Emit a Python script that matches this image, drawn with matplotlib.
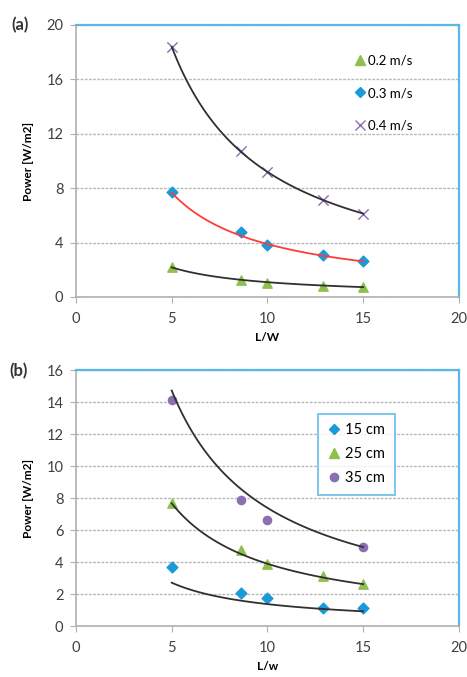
import numpy as np
import matplotlib
matplotlib.use("Agg")
import matplotlib.pyplot as plt
from matplotlib.lines import Line2D

plt.rcParams['font.family'] = ['Lato', 'DejaVu Sans']

# --- data ---
lw_ratio = [5, 8.6, 10, 12.9, 15]

# panel (a): flow speed
speed_labels = ['0.2 m/s', '0.3 m/s', '0.4 m/s']
power_02 = [2.2, 1.25, 1.05, 0.82, 0.7]
power_03 = [7.7, 4.75, 3.85, 3.1, 2.65]
power_04 = [18.4, 10.7, 9.2, 7.1, 6.1]

# panel (b): depth
depth_labels = ['15 cm', '25 cm', '35 cm']
power_15 = [3.7, 2.08, 1.77, 1.15, 1.13]
power_25 = [7.7, 4.75, 3.85, 3.1, 2.65]
lw_35 = [5, 8.6, 10, 15]
power_35 = [14.1, 7.85, 6.65, 4.93]

# power-law trendlines y = a * x**b, coefficients estimated from the drawn curves
trend_a = {'0.2': 10.9, '0.3': 37.0, '0.4': 92.0, '15': 13.2, '25': 37.0, '35': 73.0}
trend_b = {'0.2': -1.0, '0.3': -0.978, '0.4': -1.0, '15': -0.984, '25': -0.978, '35': -0.995}

GREEN = '#8fbf4f'
BLUE = '#1a9ad8'
PURPLE = '#8a6fb3'
FRAME = '#5bb8e6'
AXIS = '#b0b0b0'


def trend(ax, key, color):
    xs = np.linspace(5, 15, 100)
    ax.plot(xs, trend_a[key] * xs ** trend_b[key], color=color, lw=1.3, zorder=4)


def style_axes(ax, ymax, ystep, xlabel):
    ax.set_xlim(0, 20)
    ax.set_ylim(0, ymax)
    ax.set_xticks([0, 5, 10, 15, 20])
    ax.set_yticks(np.arange(0, ymax + 0.1, ystep))
    ax.yaxis.grid(True, color='#b8b8b8', linestyle=(0, (2, 1)), lw=1.0)
    ax.set_axisbelow(True)
    for side in ['left', 'bottom']:
        ax.spines[side].set_color(AXIS)
        ax.spines[side].set_linewidth(1.2)
    for side in ['top', 'right']:
        ax.spines[side].set_color(FRAME)
        ax.spines[side].set_linewidth(1.6)
    ax.tick_params(direction='out', length=4, color=AXIS, labelsize=10.5,
                   labelcolor='#404040')
    ax.tick_params(axis='x', pad=7)
    ax.tick_params(axis='y', pad=5)
    ax.set_xlabel(xlabel, fontsize=8.5, fontweight='bold', labelpad=4)
    ax.set_ylabel('Power [W/m2]', fontsize=8.5, fontweight='bold', labelpad=9)


fig = plt.figure(figsize=(4.67, 6.77), dpi=100)

# ----- panel (a) -----
ax1 = fig.add_axes([0.1627, 0.5613, 0.8200, 0.4018])
ax1.scatter(lw_ratio, power_02, marker='^', s=45, color=GREEN, zorder=3)
ax1.scatter(lw_ratio, power_03, marker='D', s=30, color=BLUE, zorder=3)
ax1.scatter(lw_ratio, power_04, marker='x', s=55, color=PURPLE, lw=1.0, zorder=3)
trend(ax1, '0.2', '#303030')
trend(ax1, '0.3', '#ff3b3b')
trend(ax1, '0.4', '#303030')
style_axes(ax1, 20, 4, 'L/W')
h1 = [Line2D([], [], ls='', marker='^', ms=7, color=GREEN),
      Line2D([], [], ls='', marker='D', ms=5.5, color=BLUE),
      Line2D([], [], ls='', marker='x', ms=7, mew=1.0, color=PURPLE)]
ax1.legend(h1, speed_labels, loc='upper left', bbox_to_anchor=(0.705, 0.925),
           frameon=False, fontsize=9.5, handlelength=0.8, handletextpad=0.2,
           labelspacing=1.55, borderpad=0.2)

# ----- panel (b) -----
ax2 = fig.add_axes([0.1627, 0.0753, 0.8200, 0.3781])
ax2.scatter(lw_ratio, power_15, marker='D', s=30, color=BLUE, zorder=3)
ax2.scatter(lw_ratio, power_25, marker='^', s=45, color=GREEN, zorder=3)
ax2.scatter(lw_35, power_35, marker='o', s=35, color=PURPLE, zorder=3)
trend(ax2, '15', '#303030')
trend(ax2, '25', '#303030')
trend(ax2, '35', '#303030')
style_axes(ax2, 16, 2, 'L/w')
h2 = [Line2D([], [], ls='', marker='D', ms=5.5, color=BLUE),
      Line2D([], [], ls='', marker='^', ms=7, color=GREEN),
      Line2D([], [], ls='', marker='o', ms=6, color=PURPLE)]
leg = ax2.legend(h2, depth_labels, loc='upper left', bbox_to_anchor=(0.633, 0.83),
                 frameon=True, fancybox=False, fontsize=10.5, handlelength=0.8,
                 handletextpad=0.4, labelspacing=0.7, borderpad=0.65,
                 borderaxespad=0)
leg.get_frame().set_edgecolor(FRAME)
leg.get_frame().set_linewidth(1.4)

# panel tags
fig.text(11 / 467, 1 - 25 / 677, '(a)', fontsize=12, fontweight='bold',
         color='#333333', ha='left', va='center')
fig.text(9 / 467, 1 - 371 / 677, '(b)', fontsize=12, fontweight='bold',
         color='#333333', ha='left', va='center')

fig.savefig('out.png', dpi=100)
